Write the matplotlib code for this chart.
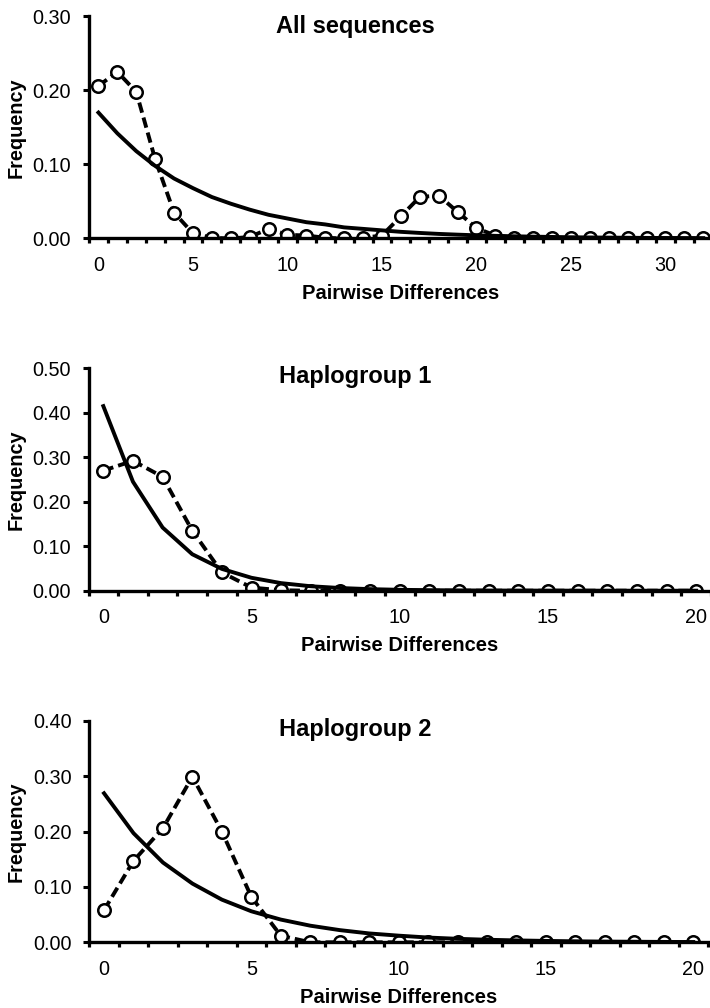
import numpy as np
import matplotlib
matplotlib.use("Agg")
import matplotlib.pyplot as plt

plt.rcParams['font.family'] = ['Liberation Sans', 'DejaVu Sans']

# observed (dashed, circles) and expected (solid) mismatch distributions
titles = ['All sequences', 'Haplogroup 1', 'Haplogroup 2']

obs_all = [0.206, 0.225, 0.198, 0.107, 0.035, 0.007, 0.001, 0.000, 0.002, 0.013,
           0.005, 0.004, 0.001, 0.000, 0.001, 0.004, 0.030, 0.056, 0.058, 0.036,
           0.014, 0.004, 0.001, 0.0, 0.0, 0.0, 0.0, 0.0, 0.0, 0.0, 0.0, 0.0, 0.0]
exp_all = [0.170, 0.142, 0.118, 0.098, 0.081, 0.068, 0.056, 0.047, 0.039, 0.032,
           0.027, 0.022, 0.019, 0.015, 0.013, 0.011, 0.009, 0.0075, 0.0062, 0.0052,
           0.0043, 0.0036, 0.003, 0.0025, 0.0021, 0.0017, 0.0014, 0.0012, 0.001,
           0.0008, 0.0007, 0.0006, 0.0005]

obs_h1 = [0.270, 0.292, 0.256, 0.135, 0.041, 0.007, 0.001, 0.0, 0.0, 0.0, 0.0,
          0.0, 0.0, 0.0, 0.0, 0.0, 0.0, 0.0, 0.0, 0.0, 0.0]
exp_h1 = [0.415, 0.245, 0.142, 0.082, 0.049, 0.029, 0.017, 0.010, 0.006, 0.0035,
          0.002, 0.0012, 0.0007, 0.0004, 0.0003, 0.0002, 0.0001, 0.0001, 0.0, 0.0, 0.0]

obs_h2 = [0.058, 0.147, 0.206, 0.299, 0.200, 0.082, 0.012, 0.0, 0.0, 0.0, 0.0,
          0.0, 0.0, 0.0, 0.0, 0.0, 0.0, 0.0, 0.0, 0.0, 0.0]
exp_h2 = [0.269, 0.197, 0.144, 0.106, 0.077, 0.056, 0.041, 0.030, 0.022, 0.016,
          0.012, 0.0086, 0.0063, 0.0046, 0.0034, 0.0025, 0.0018, 0.0013, 0.001,
          0.0007, 0.0005]

ymax = [0.30, 0.50, 0.40]

W, H = 710, 1008
fig = plt.figure(figsize=(W / 100, H / 100), dpi=100)

# axes boxes in pixels: left, right, y of 0.00, y of top
boxes = [(89, 712.7, 238.5, 16.3),
         (88.5, 711, 590.7, 368.3),
         (89.3, 708, 942.3, 720.7)]
title_y = [33, 383.5, 736]

data = [(obs_all, exp_all), (obs_h1, exp_h1), (obs_h2, exp_h2)]

for i, (obs, exp) in enumerate(data):
    l, r, b, t = boxes[i]
    ax = fig.add_axes([l / W, 1 - b / H, (r - l) / W, (b - t) / H])
    x = np.arange(len(obs))
    ax.plot(x, obs, color='black', lw=2.8, linestyle=(0, (2.7, 1.3)),
            marker='o', ms=9, mfc='white', mec='black', mew=1.8, zorder=2)
    ax.plot(x, exp, color='black', lw=2.8, zorder=2.2)

    ax.set_xlim(-0.5, len(obs) - 0.5)
    ax.set_ylim(0, ymax[i])
    ax.set_yticks(np.arange(0, ymax[i] + 0.001, 0.1))
    ax.set_yticklabels(['%.2f' % v for v in np.arange(0, ymax[i] + 0.001, 0.1)])
    ax.set_xticks(np.arange(0, len(obs), 5))
    ax.set_xticks(np.arange(-0.5, len(obs), 1), minor=True)

    ax.spines['top'].set_visible(False)
    ax.spines['right'].set_visible(False)
    for s in ['left', 'bottom']:
        ax.spines[s].set_linewidth(2.4)
        ax.spines[s].set_zorder(3)
    ax.tick_params(axis='y', direction='out', length=4.3, width=2.2, pad=8.6,
                   labelsize=14.3)
    ax.tick_params(axis='x', which='major', length=0, pad=12.5, labelsize=14.3)
    ax.tick_params(axis='x', which='minor', direction='out', length=3.5, width=2.3)
    ax.set_xlabel('Pairwise Differences', fontsize=14.5, fontweight='bold',
                  labelpad=6.5)
    ax.patch.set_visible(False)

    fig.text(16.5 / W, 1 - (b + t) / 2 / H, 'Frequency', rotation=90,
             ha='center', va='center', fontsize=14.3, fontweight='bold')
    fig.text(355 / W, 1 - title_y[i] / H, titles[i], ha='center',
             va='baseline', fontsize=17, fontweight='bold')

fig.savefig('out.png', dpi=100)
